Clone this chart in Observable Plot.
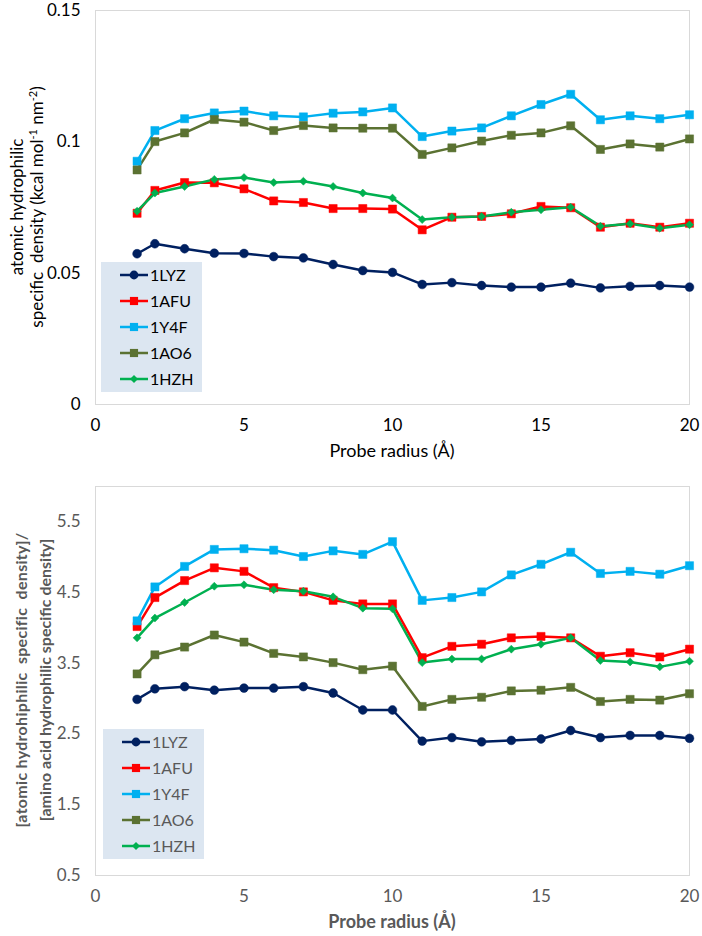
<!DOCTYPE html>
<html>
<head>
<meta charset="utf-8">
<script src="https://cdn.jsdelivr.net/npm/d3@7"></script>
<script src="https://cdn.jsdelivr.net/npm/@observablehq/plot@0.6"></script>
<style>
  html, body { margin: 0; padding: 0; background: #fff; }
  #wrap { width: 702px; }
  svg { display: block; }
</style>
</head>
<body>
<div id="wrap"></div>
<script>
// ---------- data ----------
const radius = [1.4, 2, 3, 4, 5, 6, 7, 8, 9, 10, 11, 12, 13, 14, 15, 16, 17, 18, 19, 20];
const seriesNames = ["1LYZ", "1AFU", "1Y4F", "1AO6", "1HZH"];
const seriesColors = ["#002060", "#ff0000", "#00b0f0", "#5b7232", "#00b050"];
const seriesSymbols = ["circle", "square", "square", "square", "diamond2"];
const seriesMarkerR = [4.4, 4.6, 4.6, 4.6, 3.6];

// top: atomic hydrophilic specific density (kcal mol-1 nm-2)
const lyzTop = [0.0574, 0.0612, 0.0593, 0.0576, 0.0575, 0.0563, 0.0558, 0.0533, 0.0510, 0.0503, 0.0457, 0.0464, 0.0453, 0.0447, 0.0447, 0.0462, 0.0444, 0.0450, 0.0453, 0.0447];
const afuTop = [0.0728, 0.0815, 0.0845, 0.0844, 0.0821, 0.0775, 0.0769, 0.0746, 0.0746, 0.0744, 0.0665, 0.0713, 0.0716, 0.0726, 0.0754, 0.0749, 0.0675, 0.0690, 0.0675, 0.0690];
const y4fTop = [0.0926, 0.1043, 0.1088, 0.1110, 0.1117, 0.1099, 0.1095, 0.1109, 0.1114, 0.1129, 0.1020, 0.1041, 0.1053, 0.1099, 0.1142, 0.1181, 0.1084, 0.1099, 0.1088, 0.1103];
const ao6Top = [0.0893, 0.1001, 0.1034, 0.1085, 0.1075, 0.1043, 0.1062, 0.1053, 0.1052, 0.1052, 0.0952, 0.0977, 0.1003, 0.1025, 0.1034, 0.1061, 0.0971, 0.0992, 0.0980, 0.1011];
const hzhTop = [0.0736, 0.0805, 0.0830, 0.0857, 0.0864, 0.0845, 0.0850, 0.0830, 0.0805, 0.0786, 0.0704, 0.0713, 0.0716, 0.0732, 0.0741, 0.0751, 0.0679, 0.0688, 0.0671, 0.0684];

// bottom: ratio of atomic to amino-acid hydrophilic specific density
const lyzBot = [2.99, 3.14, 3.17, 3.12, 3.15, 3.15, 3.17, 3.08, 2.84, 2.84, 2.40, 2.45, 2.39, 2.41, 2.43, 2.55, 2.45, 2.48, 2.48, 2.44];
const afuBot = [4.02, 4.43, 4.67, 4.85, 4.80, 4.57, 4.51, 4.39, 4.34, 4.34, 3.58, 3.74, 3.77, 3.86, 3.88, 3.86, 3.60, 3.65, 3.59, 3.70];
const y4fBot = [4.10, 4.58, 4.87, 5.11, 5.12, 5.10, 5.01, 5.09, 5.04, 5.22, 4.39, 4.43, 4.51, 4.75, 4.90, 5.07, 4.77, 4.80, 4.76, 4.88];
const ao6Bot = [3.35, 3.62, 3.73, 3.90, 3.80, 3.64, 3.59, 3.51, 3.41, 3.46, 2.89, 2.99, 3.02, 3.11, 3.12, 3.16, 2.96, 2.99, 2.98, 3.07];
const hzhBot = [3.86, 4.14, 4.36, 4.59, 4.61, 4.54, 4.52, 4.44, 4.28, 4.27, 3.51, 3.56, 3.56, 3.70, 3.77, 3.86, 3.54, 3.52, 3.45, 3.53];

const xTicks = [0, 5, 10, 15, 20];
const yTicksTop = [0, 0.05, 0.1, 0.15];
const yTicksBot = [0.5, 1.5, 2.5, 3.5, 4.5, 5.5];

function toRows(arrays) {
  return arrays.flatMap((arr, i) => arr.map((v, j) => ({series: seriesNames[i], x: radius[j], y: v, r: seriesMarkerR[i]})));
}
const topRows = toRows([lyzTop, afuTop, y4fTop, ao6Top, hzhTop]);
const botRows = toRows([lyzBot, afuBot, y4fBot, ao6Bot, hzhBot]);

const FONT = "Lato, 'Open Sans', sans-serif";

function makeChart(rows, opts) {
  return Plot.plot({
    width: 702,
    height: opts.height,
    marginTop: opts.marginTop,
    marginBottom: opts.marginBottom,
    marginLeft: 95,
    marginRight: 13,
    style: {fontFamily: FONT, fontSize: "17px", color: opts.textColor, background: "#fff"},
    x: {domain: [0, 20], ticks: xTicks, label: null},
    y: {domain: opts.yDomain, ticks: opts.yTicks, tickFormat: opts.yFormat, label: null},
    r: {type: "identity"},
    color: {domain: seriesNames, range: seriesColors},
    symbol: {domain: seriesNames, range: seriesSymbols},
    marks: [
      Plot.frame({stroke: "#d9d9d9", strokeWidth: 1}),
      Plot.axisX({ticks: xTicks, tickSize: 0, tickPadding: 14, label: null, fill: opts.textColor, style: opts.xTickStyle}),
      Plot.axisY({ticks: opts.yTicks, tickSize: 0, tickPadding: 15, label: null, tickFormat: opts.yFormat, fill: opts.textColor}),
      Plot.line(rows, {x: "x", y: "y", z: "series", stroke: "series", strokeWidth: 2.5}),
      Plot.dot(rows, {x: "x", y: "y", fill: "series", stroke: "series", strokeWidth: 0.5, symbol: "series", r: "r"})
    ]
  });
}

function addLegend(svg, lx, ly, textColor) {
  const g = d3.select(svg).append("g").attr("text-anchor", "start");
  g.append("rect").attr("x", lx).attr("y", ly).attr("width", 101).attr("height", 130).attr("fill", "#dce6f1");
  seriesNames.forEach((name, i) => {
    const cy = ly + 13 + i * 26;
    g.append("line").attr("x1", lx + 19).attr("x2", lx + 47).attr("y1", cy).attr("y2", cy)
      .attr("stroke", seriesColors[i]).attr("stroke-width", 2.5);
    const sym = {circle: d3.symbolCircle, square: d3.symbolSquare, diamond2: d3.symbolDiamond2}[seriesSymbols[i]];
    const r = seriesMarkerR[i];
    g.append("path").attr("d", d3.symbol(sym, r * r * Math.PI)())
      .attr("transform", `translate(${lx + 33},${cy})`).attr("fill", seriesColors[i]);
    g.append("text").attr("x", lx + 49).attr("y", cy).attr("dy", "0.36em").attr("text-anchor", "start")
      .attr("font-family", FONT).attr("font-size", 16).attr("fill", textColor)
      .text(name);
  });
}

const wrap = document.getElementById("wrap");

// ---------- top chart ----------
const topChart = makeChart(topRows, {
  height: 470, marginTop: 10, marginBottom: 66,
  yDomain: [0, 0.15], yTicks: yTicksTop, yFormat: d => String(+d.toFixed(2)),
  textColor: "#000", xTickStyle: {}
});
wrap.appendChild(topChart);
{
  const s = d3.select(topChart);
  s.append("text").attr("transform", "translate(23,207) rotate(-90)")
    .attr("text-anchor", "middle").attr("font-family", FONT).attr("font-size", 17).attr("fill", "#000")
    .text("atomic hydrophilic");
  const t2 = s.append("text").attr("transform", "translate(43,207) rotate(-90)")
    .attr("text-anchor", "middle").attr("font-family", FONT).attr("font-size", 17).attr("fill", "#000");
  t2.append("tspan").text("specific  density (kcal mol");
  t2.append("tspan").attr("baseline-shift", "super").attr("font-size", 11).text("-1");
  t2.append("tspan").text(" nm");
  t2.append("tspan").attr("baseline-shift", "super").attr("font-size", 11).text("-2");
  t2.append("tspan").text(")");
  s.append("text").attr("x", 392).attr("y", 457).attr("text-anchor", "middle")
    .attr("font-family", FONT).attr("font-size", 18).attr("fill", "#000").text("Probe radius (Å)");
  addLegend(topChart, 101, 262, "#000");
}

// ---------- bottom chart ----------
const botChart = makeChart(botRows, {
  height: 466, marginTop: 16, marginBottom: 61,
  yDomain: [0.5, 6.0], yTicks: yTicksBot, yFormat: d => d.toFixed(1),
  textColor: "#595959", xTickStyle: {letterSpacing: "1.5px"}
});
wrap.appendChild(botChart);
{
  const s = d3.select(botChart);
  s.append("text").attr("transform", "translate(27,210) rotate(-90)")
    .attr("text-anchor", "middle").attr("font-family", FONT).attr("font-size", 16)
    .attr("font-weight", "bold").attr("fill", "#595959").attr("letter-spacing", "0.3px")
    .text("[atomic hydrohiphilic  specific  density]/");
  s.append("text").attr("transform", "translate(51,210) rotate(-90)")
    .attr("text-anchor", "middle").attr("font-family", FONT).attr("font-size", 16)
    .attr("font-weight", "bold").attr("fill", "#595959")
    .text("[amino acid hydrophilic specific density]");
  s.append("text").attr("x", 392).attr("y", 458).attr("text-anchor", "middle")
    .attr("font-family", FONT).attr("font-size", 18).attr("font-weight", "bold")
    .attr("fill", "#595959").text("Probe radius (Å)");
  addLegend(botChart, 103, 259, "#595959");
}
</script>
</body>
</html>
